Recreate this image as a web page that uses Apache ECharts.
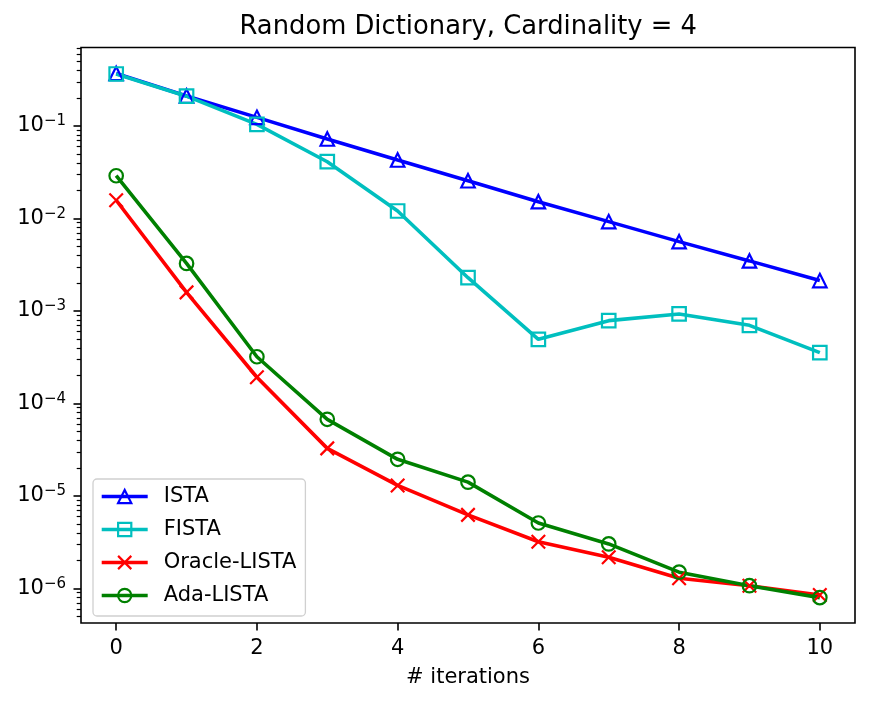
<!DOCTYPE html>
<html><head><meta charset="utf-8">
<script src="https://cdn.jsdelivr.net/npm/echarts@6/dist/echarts.min.js"></script>
<style>html,body{margin:0;padding:0;background:#fff}#c{width:871px;height:705px}</style>
</head><body><div id="c"></div>
<script>
const iterations = [0, 1, 2, 3, 4, 5, 6, 7, 8, 9, 10];
const ista = [0.37, 0.211, 0.124, 0.0724, 0.0429, 0.0256, 0.0152, 0.00925, 0.00562, 0.00348, 0.00213];
const fista = [0.365, 0.21, 0.104, 0.0411, 0.01205, 0.00229, 0.000494, 0.000786, 0.000929, 0.0007, 0.000354];
const oracleLista = [0.01574, 0.00159, 0.000192, 3.27e-5, 1.30e-5, 6.24e-6, 3.2e-6, 2.17e-6, 1.29e-6, 1.07e-6, 8.5e-7];
const adaLista = [0.0290, 0.00327, 0.00032, 6.74e-5, 2.49e-5, 1.41e-5, 5.1e-6, 3.03e-6, 1.50e-6, 1.07e-6, 7.96e-7];
const seriesNames = ['ISTA', 'FISTA', 'Oracle-LISTA', 'Ada-LISTA'];
const xTicks = [0, 2, 4, 6, 8, 10];
const yTicks = [1e-6, 1e-5, 1e-4, 1e-3, 1e-2, 1e-1];
const yMinorTicks = [];
for (let d = -7; d <= -1; d++) for (let k = 2; k <= 9; k++) yMinorTicks.push(k * Math.pow(10, d));

const FONT = 'DejaVu Sans';
const X_MIN = -0.5, X_MAX = 10.5;
const Y_MIN = 4.23e-7, Y_MAX = 0.706;
const GRID = { left: 81, right: 16, top: 47.5, bottom: 82 };

function mk(name, vals, color, symbol) {
  return {
    name: name, type: 'line', xAxisIndex: 0, yAxisIndex: 0,
    data: iterations.map((x, i) => [x, vals[i]]),
    symbol: symbol, symbolSize: 13.5,
    lineStyle: { color: color, width: 3.6 },
    itemStyle: { color: 'rgba(0,0,0,0)', borderColor: color, borderWidth: 2.2 },
    emphasis: { disabled: true },
    clip: false
  };
}

const chart = echarts.init(document.getElementById('c'));
chart.setOption({
  animation: false,
  backgroundColor: '#fff',
  title: {
    text: 'Random Dictionary, Cardinality = 4',
    left: 239.5, top: 14, padding: 0,
    textStyle: { fontFamily: FONT, fontSize: 25.8, fontWeight: 'normal', color: '#000' }
  },
  legend: {
    data: seriesNames,
    orient: 'vertical', left: 93, top: 479,
    padding: [7, 9, 10, 7],
    itemWidth: 46, itemHeight: 16.5, itemGap: 12,
    backgroundColor: 'rgba(255,255,255,0.8)',
    borderColor: '#d0d0d0', borderWidth: 1.3, borderRadius: 4,
    lineStyle: { width: 3.4 },
    itemStyle: { borderWidth: 2.2 },
    textStyle: { fontFamily: FONT, fontSize: 21, lineHeight: 20, color: '#000', padding: [0, 0, 0, 11] }
  },
  grid: [
    Object.assign({ show: true, borderColor: '#000', borderWidth: 1.6, backgroundColor: 'transparent', outerBoundsMode: 'none' }, GRID),
    Object.assign({ show: false, outerBoundsMode: 'none' }, GRID)
  ],
  xAxis: [{
    gridIndex: 0, type: 'value', min: X_MIN, max: X_MAX,
    axisLine: { show: false, onZero: false },
    splitLine: { show: false },
    axisTick: { show: true, customValues: xTicks, length: 7.5, lineStyle: { color: '#000', width: 1.6 } },
    axisLabel: { customValues: xTicks, fontFamily: FONT, fontSize: 21, color: '#000', margin: 15 },
    name: '# iterations', nameLocation: 'middle', nameGap: 44,
    nameTextStyle: { fontFamily: FONT, fontSize: 21, color: '#000' }
  }, {
    gridIndex: 1, type: 'value', min: X_MIN, max: X_MAX, show: false,
    axisLine: { onZero: false }
  }],
  yAxis: [{
    gridIndex: 0, type: 'log', logBase: 10, min: Y_MIN, max: Y_MAX, position: 'left',
    axisLine: { show: false, onZero: false },
    splitLine: { show: false },
    minorTick: { show: false },
    axisTick: { show: true, customValues: yTicks, length: 7.5, lineStyle: { color: '#000', width: 1.6 } },
    axisLabel: {
      customValues: yTicks, margin: 15,
      formatter: function (v) {
        const e = Math.round(Math.log10(v));
        return '{b|10}{s|' + (e < 0 ? '\u2212' : '') + Math.abs(e) + '}';
      },
      rich: {
        b: { fontFamily: FONT, fontSize: 21, color: '#000', lineHeight: 24 },
        s: { fontFamily: FONT, fontSize: 15, color: '#000', lineHeight: 15, verticalAlign: 'top' }
      }
    }
  }, {
    gridIndex: 1, type: 'log', logBase: 10, min: Y_MIN, max: Y_MAX, position: 'left',
    axisLine: { show: false, onZero: false },
    splitLine: { show: false },
    minorTick: { show: false },
    axisTick: { show: true, customValues: yMinorTicks, length: 4.3, lineStyle: { color: '#000', width: 1.2 } },
    axisLabel: { show: false }
  }],
  series: [
    mk(seriesNames[0], ista, '#0000ff', 'triangle'),
    mk(seriesNames[1], fista, '#00bfbf', 'rect'),
    mk(seriesNames[2], oracleLista, '#ff0000', 'path://M0,0L10,10M10,0L0,10'),
    mk(seriesNames[3], adaLista, '#008000', 'circle')
  ]
});
</script></body></html>
